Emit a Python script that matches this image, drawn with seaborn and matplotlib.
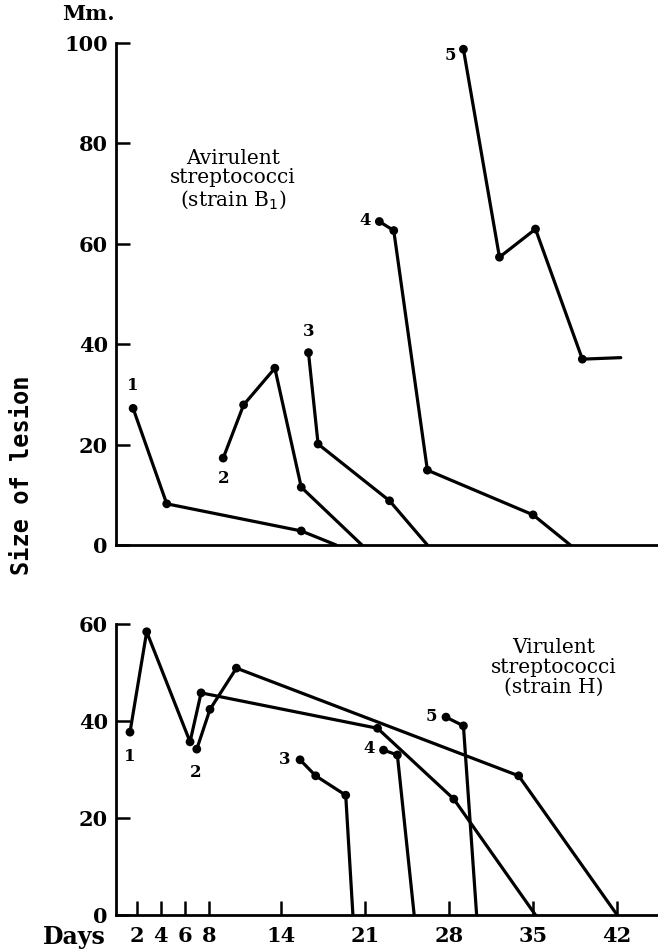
import matplotlib
matplotlib.use('Agg')
import matplotlib.pyplot as plt
import seaborn as sns
import pandas as pd

# ---------------- data ----------------
series_ids = ["1", "2", "3", "4", "5"]

# Avirulent streptococci (strain B1) - upper panel
avir_days = [
    [1.7, 4.5, 15.7, 18.6],
    [9.2, 10.9, 13.5, 15.7, 20.75],
    [16.3, 17.1, 23.05, 26.2],
    [22.2, 23.4, 26.2, 35.0, 38.1],
    [29.2, 32.2, 35.2, 39.1, 42.3],
]
avir_size = [
    [27.2, 8.2, 2.8, 0],
    [17.3, 27.9, 35.2, 11.5, 0],
    [38.3, 20.1, 8.8, 0],
    [64.4, 62.6, 14.9, 6.0, 0],
    [98.7, 57.3, 62.9, 37.0, 37.3],
]
avir_marked = [3, 4, 3, 4, 4]   # number of measured (dotted) points

# Virulent streptococci (strain H) - lower panel
vir_days = [
    [1.44, 2.83, 6.44, 7.36, 22.05, 28.4, 35.2],
    [7.0, 8.1, 10.3, 33.8, 42.0],
    [15.6, 16.9, 19.4, 20.0],
    [22.55, 23.7, 25.1],
    [27.75, 29.2, 30.3],
]
vir_size = [
    [37.7, 58.4, 35.7, 45.8, 38.5, 23.9, 0],
    [34.2, 42.4, 50.9, 28.7, 0],
    [32.0, 28.7, 24.7, 0],
    [34.0, 33.0, 0],
    [40.8, 39.0, 0],
]
vir_marked = [6, 4, 3, 2, 2]

day_ticks = [2, 4, 6, 8, 14, 21, 28, 35, 42]
avir_yticks = [0, 20, 40, 60, 80, 100]
vir_yticks = [0, 20, 40, 60]


def build(days, sizes, marked):
    rows, pts = [], []
    for sid, d, s, m in zip(series_ids, days, sizes, marked):
        for i, (x, y) in enumerate(zip(d, s)):
            rows.append({"series": sid, "order": i, "day": x, "size": y})
            if i < m:
                pts.append({"series": sid, "day": x, "size": y})
    return pd.DataFrame(rows), pd.DataFrame(pts)


avir_df, avir_pts = build(avir_days, avir_size, avir_marked)
vir_df, vir_pts = build(vir_days, vir_size, vir_marked)

# ---------------- style ----------------
sns.set_theme(style="white")
plt.rcParams['font.family'] = ['DejaVu Serif']
plt.rcParams['axes.linewidth'] = 2.0

W, H = 658, 951
fig = plt.figure(figsize=(W / 100, H / 100), dpi=100)

XMIN, XMAX = 0.3, 45.4
left = 116.3 / W
width = 1.0 - left

ax1 = fig.add_axes([left, 1 - 545 / H, width, (545 - 42.7) / H])
ax2 = fig.add_axes([left, 1 - 915 / H, width, (915 - 624) / H])

LW = 2.3
for ax, df, pts in [(ax1, avir_df, avir_pts), (ax2, vir_df, vir_pts)]:
    sns.lineplot(data=df, x="day", y="size", units="series", estimator=None,
                 sort=False, color="black", lw=LW, ax=ax, legend=False)
    sns.scatterplot(data=pts, x="day", y="size", color="black", s=40,
                    edgecolor="none", ax=ax, legend=False, zorder=5)
    ax.set_xlim(XMIN, XMAX)
    ax.set_xlabel("")
    ax.set_ylabel("")
    for sp in ["top", "right"]:
        ax.spines[sp].set_visible(False)
    for sp in ["left", "bottom"]:
        ax.spines[sp].set_color("black")
        ax.spines[sp].set_linewidth(2.0)
    ax.tick_params(axis="y", direction="in", length=10, width=1.8,
                   labelsize=15, pad=6, colors="black", left=True)

ax1.set_ylim(0, 100)
ax1.set_yticks(avir_yticks)
ax1.set_yticklabels([str(v) for v in avir_yticks], fontweight="bold")
ax1.set_xticks([])

ax2.set_ylim(0, 60)
ax2.set_yticks(vir_yticks)
ax2.set_yticklabels([str(v) for v in vir_yticks], fontweight="bold")
ax2.set_xticks(day_ticks)
ax2.set_xticklabels([str(v) for v in day_ticks], fontweight="bold")
ax2.tick_params(axis="x", direction="in", length=10, width=1.8,
                labelsize=15, pad=8, colors="black", bottom=True)

# series number labels
lab_kw = dict(fontsize=12, fontweight="bold", color="black")
ax1.text(1.7, 30.0, "1", ha="center", va="bottom", **lab_kw)
ax1.text(9.2, 15.0, "2", ha="center", va="top", **lab_kw)
ax1.text(16.3, 40.8, "3", ha="center", va="bottom", **lab_kw)
ax1.text(21.5, 64.6, "4", ha="right", va="center", **lab_kw)
ax1.text(28.6, 97.5, "5", ha="right", va="center", **lab_kw)

ax2.text(1.44, 34.5, "1", ha="center", va="top", **lab_kw)
ax2.text(6.9, 31.2, "2", ha="center", va="top", **lab_kw)
ax2.text(14.8, 32.0, "3", ha="right", va="center", **lab_kw)
ax2.text(21.8, 34.3, "4", ha="right", va="center", **lab_kw)
ax2.text(27.0, 41.0, "5", ha="right", va="center", **lab_kw)

# panel descriptions
ax1.text(10.0, 72.7, "Avirulent\nstreptococci\n(strain B$_1$)", ha="center",
         va="center", fontsize=14.5, linespacing=1.05, color="black")
ax2.text(36.7, 51.0, "Virulent\nstreptococci\n(strain H)", ha="center",
         va="center", fontsize=14.5, linespacing=1.05, color="black")

fig.text(88 / W, 1 - 14 / H, "Mm.", ha="center", va="center", fontsize=15,
         fontweight="bold", color="black")
fig.text(74 / W, 1 - 937 / H, "Days", ha="center", va="center", fontsize=17,
         fontweight="bold", color="black")
fig.text(22 / W, 1 - 475 / H, "Size of lesion", ha="center", va="center",
         rotation=90, fontsize=17, color="black", fontweight="bold",
         family="DejaVu Sans Mono")

fig.savefig("out.png", dpi=100, facecolor="white")
